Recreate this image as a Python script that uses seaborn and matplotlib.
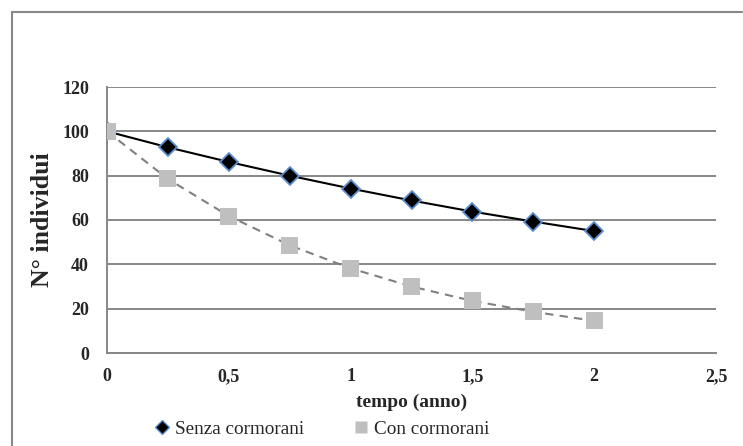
import matplotlib
matplotlib.use("Agg")
import matplotlib.pyplot as plt
from matplotlib.lines import Line2D
import seaborn as sns
import pandas as pd

# Data
tempo = [0, 0.25, 0.5, 0.75, 1.0, 1.25, 1.5, 1.75, 2.0]
senza_cormorani = [100, 92.8, 86.2, 80.0, 74.2, 68.8, 63.8, 59.3, 55.0]
con_cormorani = [100, 78.5, 61.8, 48.6, 38.2, 30.0, 23.5, 18.6, 14.5]
xticks = [0, 0.5, 1, 1.5, 2, 2.5]
xtick_labels = ["0", "0,5", "1", "1,5", "2", "2,5"]
yticks = [0, 20, 40, 60, 80, 100, 120]
series_names = ["Senza cormorani", "Con cormorani"]

sns.set_style("white")
plt.rcParams["font.family"] = ["Liberation Serif", "DejaVu Serif"]

df = pd.DataFrame({"tempo": tempo, "senza": senza_cormorani, "con": con_cormorani})

fig = plt.figure(figsize=(7.43, 4.46), dpi=100)
ax = fig.add_axes([107 / 743, 1 - 353 / 446, (716 - 107) / 743, (353 - 87) / 446])

grid_c = "#878787"
blue = "#5B8FD0"
grey_m = "#BFBFBF"

sns.lineplot(data=df, x="tempo", y="senza", ax=ax, color="black", linewidth=1.5,
             marker="D", markersize=9.5, markerfacecolor="black",
             markeredgecolor=blue, markeredgewidth=1.3, zorder=3)
sns.lineplot(data=df, x="tempo", y="con", ax=ax, color="#808080", linewidth=1.5,
             linestyle=(0, (4, 3)), zorder=4)
sns.scatterplot(data=df, x="tempo", y="con", ax=ax, marker="s", s=150,
                color=grey_m, edgecolor="none", zorder=5)

ax.set_xlim(0, 2.5)
ax.set_ylim(0, 120)
ax.set_xticks(xticks)
ax.set_xticklabels(xtick_labels)
ax.set_yticks(yticks)
ax.yaxis.grid(True, color=grid_c, linewidth=1.4)
ax.xaxis.grid(False)
ax.set_axisbelow(True)

for s in ["top", "right"]:
    ax.spines[s].set_visible(False)
for s in ["left", "bottom"]:
    ax.spines[s].set_color(grid_c)
    ax.spines[s].set_linewidth(1.4)

ax.tick_params(axis="both", which="major", length=5, width=1.4, color=grid_c,
               labelsize=13, direction="out")
ax.tick_params(axis="y", pad=8)
ax.tick_params(axis="x", pad=6)
for lbl in ax.get_xticklabels() + ax.get_yticklabels():
    lbl.set_fontweight("bold")

ax.set_xlabel("tempo (anno)", fontsize=14, fontweight="bold", labelpad=6)
ax.set_ylabel("N° individui", fontsize=18.5, fontweight="bold", labelpad=6)

handles = [
    Line2D([], [], linestyle="none", marker="D", markersize=7.5, markerfacecolor="black",
           markeredgecolor=blue, markeredgewidth=1.0),
    Line2D([], [], linestyle="none", marker="s", markersize=9, markerfacecolor=grey_m,
           markeredgecolor="none"),
]
fig.legend(handles, series_names, loc="center", bbox_to_anchor=(322 / 743, 1 - 429 / 446),
           ncol=2, frameon=False, fontsize=13.8, handlelength=0.8, handletextpad=0.25,
           columnspacing=2.6, borderpad=0)

# outer chart border (top and left visible)
fig.add_artist(Line2D([12 / 743, 742 / 743], [1 - 12 / 446, 1 - 12 / 446],
                      transform=fig.transFigure, color=grid_c, linewidth=1.5))
fig.add_artist(Line2D([12 / 743, 12 / 743], [1 - 12 / 446, 0],
                      transform=fig.transFigure, color=grid_c, linewidth=1.5))

fig.savefig("out.png", dpi=100)
